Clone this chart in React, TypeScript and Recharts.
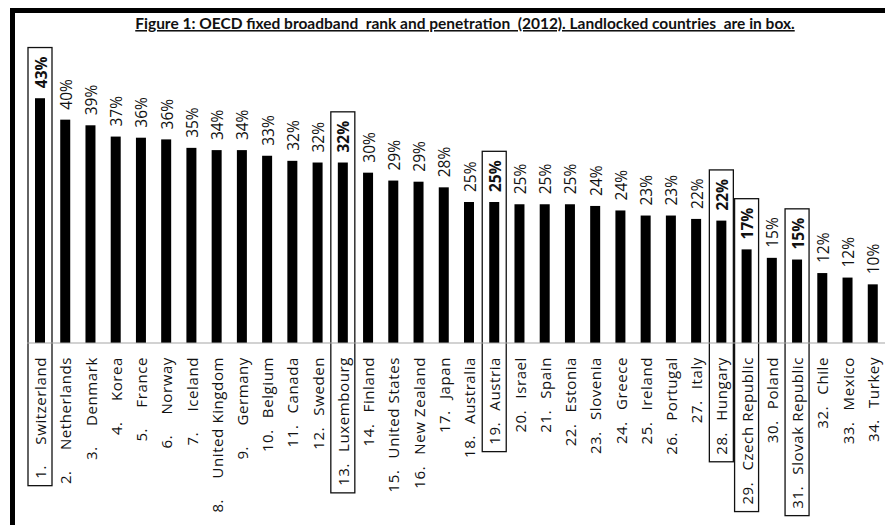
import { Bar, BarChart, LabelList, XAxis, YAxis } from "recharts";

const ranks = [
  1, 2, 3, 4, 5, 6, 7, 8, 9, 10, 11, 12, 13, 14, 15, 16, 17, 18, 19, 20, 21,
  22, 23, 24, 25, 26, 27, 28, 29, 30, 31, 32, 33, 34,
];
const countries = [
  "Switzerland", "Netherlands", "Denmark", "Korea", "France", "Norway",
  "Iceland", "United Kingdom", "Germany", "Belgium", "Canada", "Sweden",
  "Luxembourg", "Finland", "United States", "New Zealand", "Japan",
  "Australia", "Austria", "Israel", "Spain", "Estonia", "Slovenia", "Greece",
  "Ireland", "Portugal", "Italy", "Hungary", "Czech Republic", "Poland",
  "Slovak Republic", "Chile", "Mexico", "Turkey",
];
// fixed broadband subscriptions per 100 inhabitants (%)
const penetration = [
  43.4, 39.6, 38.6, 36.6, 36.4, 36.1, 34.6, 34.2, 34.2, 33.2, 32.3, 32.0,
  32.0, 30.2, 28.8, 28.6, 27.6, 25.0, 25.0, 24.6, 24.6, 24.6, 24.3, 23.5,
  22.6, 22.6, 22.0, 21.7, 16.6, 15.1, 14.8, 12.4, 11.6, 10.4,
];
const landlocked = [
  "Switzerland", "Luxembourg", "Austria", "Hungary", "Czech Republic",
  "Slovak Republic",
];

const data = countries.map((name, i) => ({
  name,
  rank: ranks[i],
  value: penetration[i],
  boxed: landlocked.includes(name),
}));

const FONT = "'Open Sans', sans-serif";
const CAT_SIZE = 15;
const CAT_SPACING = 0.6;
const VAL_SIZE = 15.5;
const TAB = 34; // tab stop between "N." and the country name
const AXIS_GAP = 14;

let ctx: CanvasRenderingContext2D | null = null;
function textWidth(s: string, size: number, weight = 400, spacing = 0) {
  if (!ctx) ctx = document.createElement("canvas").getContext("2d");
  if (!ctx) return s.length * size * 0.55;
  ctx.font = `${weight} ${size}px 'Open Sans'`;
  return ctx.measureText(s).width + spacing * s.length;
}

type TickProps = { x?: number; y?: number; index?: number };

function CountryTick({ x = 0, y = 0, index = 0 }: TickProps) {
  const name = countries[index];
  const nameW = textWidth(name, CAT_SIZE, 400, CAT_SPACING);
  const bx = x + 6.5;
  return (
    <g fill="#111" fontFamily={FONT} fontSize={CAT_SIZE} letterSpacing={CAT_SPACING}>
      <text transform={`translate(${bx},${y}) rotate(-90)`} textAnchor="end">
        {name}
      </text>
      <text
        transform={`translate(${bx},${y + nameW + TAB}) rotate(-90)`}
        textAnchor="start"
      >
        {`${ranks[index]}.`}
      </text>
    </g>
  );
}

type ShapeProps = {
  x?: number;
  y?: number;
  width?: number;
  height?: number;
  payload?: { name: string; value: number; boxed: boolean };
};

// bar plus, for landlocked countries, the box drawn round the whole column
function BoxedBar({ x = 0, y = 0, width = 0, height = 0, payload }: ShapeProps) {
  const cx = x + width / 2;
  let box = null;
  if (payload?.boxed) {
    const labelW = textWidth(`${Math.round(payload.value)}%`, VAL_SIZE, 700);
    const nameW = textWidth(payload.name, CAT_SIZE, 400, CAT_SPACING);
    const top = y - 10 - labelW - 9;
    const bottom = y + height + AXIS_GAP + nameW + TAB + 7;
    box = (
      <rect
        x={cx - 12}
        y={top}
        width={24}
        height={bottom - top}
        fill="none"
        stroke="#111"
        strokeWidth={1.3}
      />
    );
  }
  return (
    <g>
      <rect x={x} y={y} width={width} height={height} fill="#000" />
      {box}
    </g>
  );
}

type LabelProps = {
  x?: number;
  y?: number;
  width?: number;
  value?: number;
  index?: number;
};

function ValueLabel({ x = 0, y = 0, width = 0, value = 0, index = 0 }: LabelProps) {
  const cx = Number(x) + Number(width) / 2;
  const bold = data[index]?.boxed;
  return (
    <text
      transform={`translate(${cx + 6.5},${Number(y) - 10}) rotate(-90)`}
      textAnchor="start"
      fontFamily={FONT}
      fontSize={VAL_SIZE}
      fontWeight={bold ? 700 : 400}
      fill="#111"
    >
      {`${Math.round(Number(value))}%`}
    </text>
  );
}

export default function App() {
  return (
    <div
      style={{
        position: "relative",
        width: 885,
        height: 525,
        overflow: "hidden",
        background: "#fff",
      }}
    >
      <style>{"body{margin:0}"}</style>
      <div
        style={{
          position: "absolute",
          left: 10,
          top: 8,
          width: 1000,
          height: 1000,
          border: "5px solid #000",
        }}
      />
      <svg
        width={885}
        height={40}
        style={{ position: "absolute", left: 0, top: 0 }}
      >
        <text
          x={465}
          y={29}
          textAnchor="middle"
          fontFamily="Lato, sans-serif"
          fontWeight={700}
          fontSize={15.5}
          textDecoration="underline"
          fill="#111"
          style={{ whiteSpace: "pre" }}
        >
          Figure 1: OECD fixed broadband  rank and penetration  (2012). Landlocked countries  are in box.
        </text>
      </svg>
      <div style={{ position: "absolute", left: 0, top: 0 }}>
        <BarChart
          width={885}
          height={525}
          data={data}
          margin={{ top: 61, right: 0, left: 27, bottom: 12 }}
        >
          <XAxis
            dataKey="name"
            height={170}
            interval={0}
            tickSize={0}
            tickLine={false}
            tickMargin={AXIS_GAP}
            axisLine={{ stroke: "#a6a6a6", strokeWidth: 1.2 }}
            tick={(props: object) => <CountryTick {...(props as TickProps)} />}
          />
          <YAxis hide domain={[0, 50]} />
          <Bar
            dataKey="value"
            barSize={10}
            isAnimationActive={false}
            shape={(props: object) => <BoxedBar {...(props as ShapeProps)} />}
          >
            <LabelList
              dataKey="value"
              content={(props: object) => <ValueLabel {...(props as LabelProps)} />}
            />
          </Bar>
        </BarChart>
      </div>
    </div>
  );
}
